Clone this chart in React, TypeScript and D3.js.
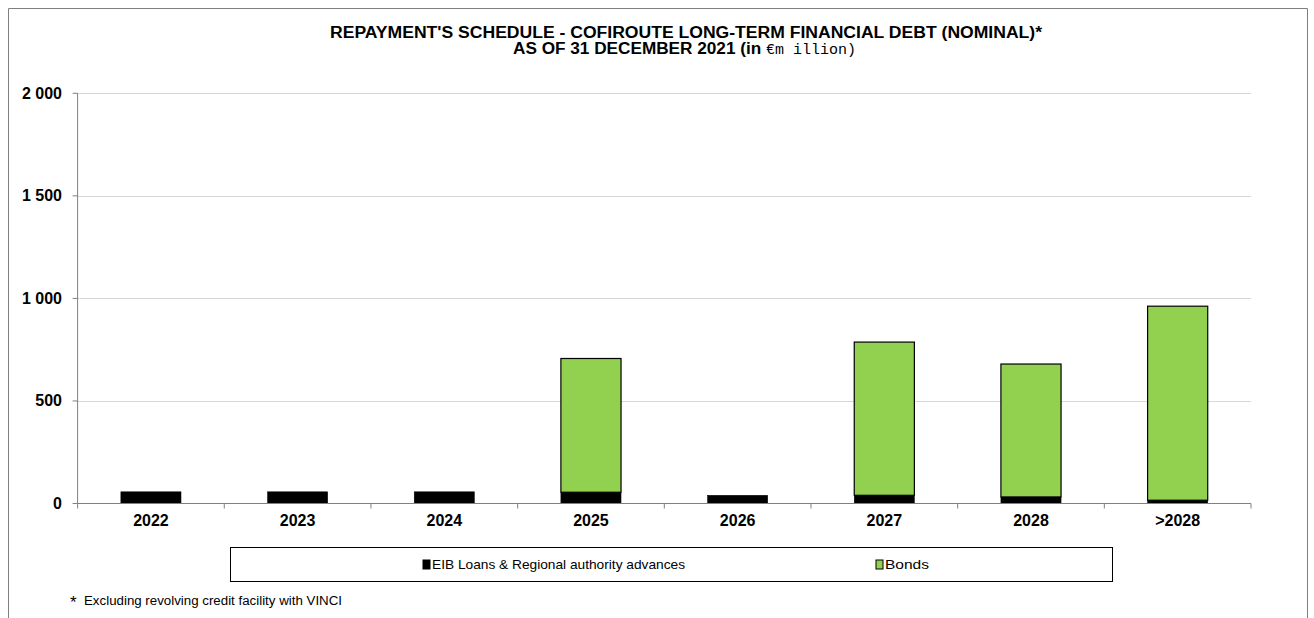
import React, { useRef, useEffect } from "react";
import * as d3 from "d3";

const categories = ["2022", "2023", "2024", "2025", "2026", "2027", "2028", ">2028"];
const eibLoans = [57, 57, 57, 55, 40, 40, 32, 16];
const bonds = [0, 0, 0, 652, 0, 747, 648, 946];
const yTicks = [0, 500, 1000, 1500, 2000];
const seriesNames = ["EIB Loans & Regional authority advances", "Bonds"];
const seriesColors = ["#000000", "#92D050"];

const W = 1314;
const H = 618;

const App: React.FC = () => {
  const svgRef = useRef<SVGSVGElement>(null);

  useEffect(() => {
    document.body.style.margin = "0";
    const svg = d3.select(svgRef.current);
    svg.selectAll("*").remove();

    const left = 77.6;
    const right = 1251;
    const top = 93.3;
    const bottom = 503.5;
    const font = "Arial, 'Liberation Sans', sans-serif";

    // outer frame (bottom cut off)
    svg
      .append("path")
      .attr("d", `M8.5,${H + 2}V8.5H1307.5V${H + 2}`)
      .attr("fill", "none")
      .attr("stroke", "#7f7f7f")
      .attr("stroke-width", 1);

    // title
    const title = svg.append("g").attr("font-family", font).attr("font-weight", "bold").attr("fill", "#000");
    title
      .append("text")
      .attr("x", 330)
      .attr("y", 37.5)
      .attr("font-size", 16)
      .attr("textLength", 712)
      .attr("lengthAdjust", "spacingAndGlyphs")
      .text("REPAYMENT'S SCHEDULE - COFIROUTE LONG-TERM FINANCIAL DEBT (NOMINAL)*");
    const t2 = title.append("text").attr("x", 513).attr("y", 54).attr("font-size", 16);
    t2.append("tspan")
      .attr("textLength", 253)
      .attr("lengthAdjust", "spacingAndGlyphs")
      .text("AS OF 31 DECEMBER 2021 (in ");
    t2.append("tspan")
      .attr("font-family", "'Liberation Mono', 'DejaVu Sans Mono', monospace")
      .attr("font-weight", "normal")
      .attr("font-size", 15)
      .attr("textLength", 90)
      .attr("lengthAdjust", "spacingAndGlyphs")
      .text("€m illion)");

    const x = d3.scaleBand<string>().domain(categories).range([left, right]).paddingInner(0.59).paddingOuter(0.295);
    const y = d3.scaleLinear().domain([0, 2000]).range([bottom, top]);

    // gridlines
    svg
      .append("g")
      .selectAll("line")
      .data(yTicks.filter((d) => d > 0))
      .enter()
      .append("line")
      .attr("x1", left)
      .attr("x2", right)
      .attr("y1", (d) => Math.round(y(d)) + 0.5)
      .attr("y2", (d) => Math.round(y(d)) + 0.5)
      .attr("stroke", "#b0b0b0")
      .attr("stroke-dasharray", "1,1")
      .attr("stroke-width", 1);

    // stacked bars
    const stackData = categories.map((c, i) => ({ cat: c, eib: eibLoans[i], bonds: bonds[i] }));
    const stack = d3.stack<any>().keys(["eib", "bonds"]);
    const series = stack(stackData);

    series.forEach((s, si) => {
      svg
        .append("g")
        .selectAll("rect")
        .data(s.filter((d) => d[1] - d[0] > 0))
        .enter()
        .append("rect")
        .attr("x", (d: any) => x(d.data.cat)!)
        .attr("y", (d) => y(d[1]))
        .attr("width", x.bandwidth())
        .attr("height", (d) => y(d[0]) - y(d[1]))
        .attr("fill", seriesColors[si])
        .attr("stroke", "#000")
        .attr("stroke-width", si === 1 ? 1.2 : 0.5);
    });

    // y axis
    const yAxis = svg.append("g");
    yAxis
      .append("line")
      .attr("x1", left)
      .attr("x2", left)
      .attr("y1", top)
      .attr("y2", bottom)
      .attr("stroke", "#808080");
    yAxis
      .selectAll("line.tick")
      .data(yTicks)
      .enter()
      .append("line")
      .attr("class", "tick")
      .attr("x1", left - 5)
      .attr("x2", left)
      .attr("y1", (d) => y(d))
      .attr("y2", (d) => y(d))
      .attr("stroke", "#808080");
    yAxis
      .selectAll("text")
      .data(yTicks)
      .enter()
      .append("text")
      .attr("x", 62)
      .attr("y", (d) => y(d) + 5.5)
      .attr("text-anchor", "end")
      .attr("font-family", font)
      .attr("font-weight", "bold")
      .attr("font-size", 16)
      .text((d) => d3.format(",")(d).replace(",", " "));

    // x axis
    const xAxis = svg.append("g");
    xAxis
      .append("line")
      .attr("x1", left)
      .attr("x2", right)
      .attr("y1", bottom)
      .attr("y2", bottom)
      .attr("stroke", "#808080");
    const step = x.step();
    xAxis
      .selectAll("line.tick")
      .data(d3.range(categories.length + 1))
      .enter()
      .append("line")
      .attr("class", "tick")
      .attr("x1", (i) => left + i * step)
      .attr("x2", (i) => left + i * step)
      .attr("y1", bottom)
      .attr("y2", bottom + 5)
      .attr("stroke", "#808080");
    xAxis
      .selectAll("text")
      .data(categories)
      .enter()
      .append("text")
      .attr("x", (d) => x(d)! + x.bandwidth() / 2)
      .attr("y", 526)
      .attr("text-anchor", "middle")
      .attr("font-family", font)
      .attr("font-weight", "bold")
      .attr("font-size", 16)
      .text((d) => d);

    // legend
    const legend = svg.append("g");
    legend
      .append("rect")
      .attr("x", 230.5)
      .attr("y", 547.5)
      .attr("width", 882)
      .attr("height", 34)
      .attr("fill", "#fff")
      .attr("stroke", "#000")
      .attr("stroke-width", 1);
    const legendX = [423, 876];
    const legendW = [253, 44];
    seriesNames.forEach((name, i) => {
      legend
        .append("rect")
        .attr("x", legendX[i])
        .attr("y", 560)
        .attr("width", 7)
        .attr("height", 9)
        .attr("fill", seriesColors[i])
        .attr("stroke", "#000")
        .attr("stroke-width", 1);
      legend
        .append("text")
        .attr("x", legendX[i] + 9)
        .attr("y", 569)
        .attr("font-family", font)
        .attr("font-size", 13)
        .attr("textLength", legendW[i])
        .attr("lengthAdjust", "spacingAndGlyphs")
        .text(name);
    });

    // footnote
    svg
      .append("text")
      .attr("x", 70)
      .attr("y", 608)
      .attr("font-family", font)
      .attr("font-size", 17)
      .text("*");
    svg
      .append("text")
      .attr("x", 84)
      .attr("y", 605)
      .attr("font-family", font)
      .attr("font-size", 12)
      .attr("textLength", 258)
      .attr("lengthAdjust", "spacingAndGlyphs")
      .text("Excluding revolving credit facility with VINCI");
  }, []);

  return (
    <div style={{ position: "absolute", left: 0, top: 0 }}>
      <svg ref={svgRef} width={W} height={H} style={{ display: "block", background: "#fff" }}></svg>
    </div>
  );
};

export default App;
